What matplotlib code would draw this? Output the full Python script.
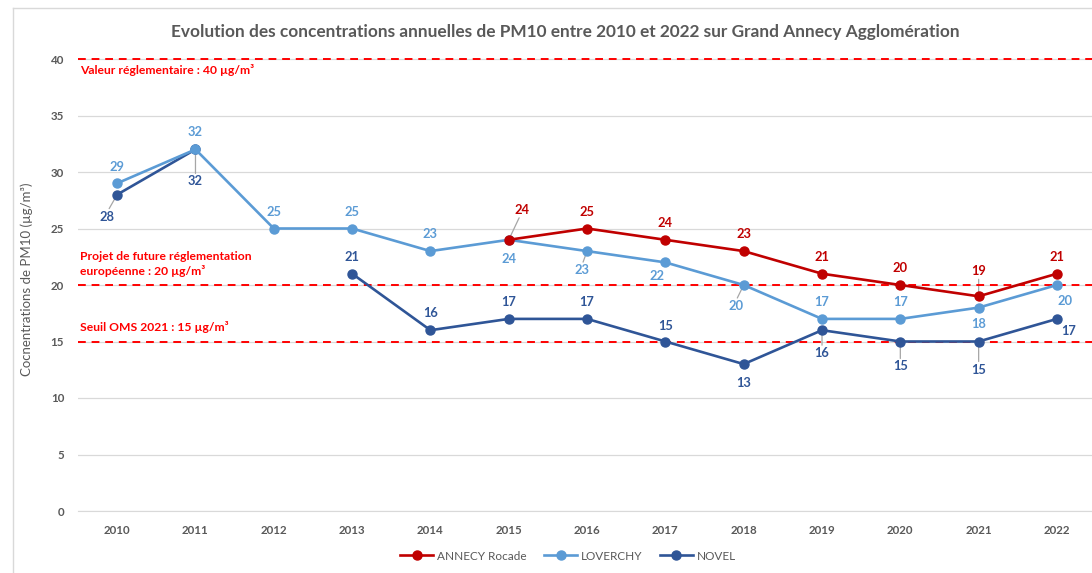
import numpy as np
import matplotlib
matplotlib.use("Agg")
import matplotlib.pyplot as plt
from matplotlib.lines import Line2D

plt.rcParams['font.family'] = ['Lato', 'DejaVu Sans']

years = ['2010', '2011', '2012', '2013', '2014', '2015', '2016',
         '2017', '2018', '2019', '2020', '2021', '2022']
nan = np.nan
annecy = [nan, nan, nan, nan, nan, 24, 25, 24, 23, 21, 20, 19, 21]
loverchy = [29, 32, 25, 25, 23, 24, 23, 22, 20, 17, 17, 18, 20]
novel = [28, 32, nan, 21, 16, 17, 17, 15, 13, 16, 15, 15, 17]
seuils = [40, 20, 15]
seuil_labels = ['Valeur réglementaire : 40 µg/m³',
                'Projet de future réglementation\neuropéenne : 20 µg/m³',
                'Seuil OMS 2021 : 15 µg/m³']

# label offsets in pixels (dx, dy) and whether a leader line is drawn
off_annecy = [None]*5 + [(13, 30, 1), (0, 17, 0), (0, 17, 0), (0, 17, 0),
                         (0, 17, 0), (0, 17, 0), (0, 25, 1), (0, 17, 0)]
off_lov = [(0, 16, 0), (0, 17, 0), (0, 17, 0), (0, 17, 0), (0, 17, 0),
           (0, -19, 0), (-5, -19, 1), (-8, -14, 0), (-8, -21, 1),
           (0, 17, 0), (0, 17, 0), (0, -16, 0), (8, -16, 0)]
off_nov = [(-10, -22, 1), (0, -32, 1), None, (0, 17, 0), (0, 17, 0),
           (0, 17, 0), (0, 17, 0), (0, 16, 0), (0, -19, 0), (0, -23, 1),
           (0, -25, 1), (0, -28, 1), (12, -12, 0)]

c_red = '#C00000'
c_lov = '#5B9BD5'
c_nov = '#2F5597'
gray = '#595959'

ymax = 41
fig = plt.figure(figsize=(10.92, 5.73), dpi=100)
ax = fig.add_axes([78/1092, 62/573, 1 - 78/1092, ymax*11.3/573])
x = np.arange(len(years))

series = [(annecy, c_red, 'ANNECY Rocade', off_annecy),
          (loverchy, c_lov, 'LOVERCHY', off_lov),
          (novel, c_nov, 'NOVEL', off_nov)]

for vals, col, name, offs in series[::-1]:
    ax.plot(x, vals, color=col, lw=1.9, marker='o', ms=6.5,
            markeredgecolor=col, label=name, zorder=3)

for vals, col, name, offs in series:
    for i, v in enumerate(vals):
        if np.isnan(v) or offs[i] is None:
            continue
        dx, dy, lead = offs[i]
        ax.annotate(f'{v:g}', (x[i], v), xytext=(dx, dy),
                    textcoords='offset pixels', ha='center', va='center',
                    color=col, fontsize=9.3, fontweight='bold', zorder=5)
        if lead:
            sgn = 1 if dy > 0 else -1
            ax.annotate('', (x[i], v), xytext=(dx*0.8, dy - sgn*8),
                        textcoords='offset pixels',
                        arrowprops=dict(arrowstyle='-', color='#A6A6A6', lw=0.9,
                                        shrinkA=0, shrinkB=0), zorder=2)

for s in seuils:
    ax.axhline(s, color='#FF0000', ls=(0, (4, 3)), lw=1.4, zorder=2)
ax.text(-0.47, 39.0, seuil_labels[0], color='#FF0000', fontsize=8.7,
        fontweight='bold', va='center')
ax.text(-0.47, 21.85, seuil_labels[1], color='#FF0000', fontsize=8.7,
        fontweight='bold', va='center', linespacing=1.25)
ax.text(-0.47, 16.3, seuil_labels[2], color='#FF0000', fontsize=8.7,
        fontweight='bold', va='center')

ax.set_xlim(-0.5, (1092-117)/78.33)
ax.set_ylim(0, ymax)
ax.set_yticks(np.arange(0, 45, 5))
ax.set_xticks(x)
ax.set_xticklabels(years)
ax.tick_params(length=0, labelsize=8.3, labelcolor=gray, pad=10)
for lab in ax.get_xticklabels() + ax.get_yticklabels():
    lab.set_fontweight('bold')
ax.grid(axis='y', color='#D9D9D9', lw=0.9, zorder=0)
for sp in ['top', 'right', 'left']:
    ax.spines[sp].set_visible(False)
ax.spines['bottom'].set_color('#D9D9D9')
ax.set_ylabel('Cocnentrations de PM10 (µg/m³)', fontsize=9.5, color=gray,
              labelpad=13)

fig.text(0.518, 1 - 32/573, 'Evolution des concentrations annuelles de PM10 '
         'entre 2010 et 2022 sur Grand Annecy Agglomération',
         ha='center', va='center', fontsize=12.4, fontweight='bold', color=gray)

fig.legend([ax.lines[2], ax.lines[1], ax.lines[0]],
           ['ANNECY Rocade', 'LOVERCHY', 'NOVEL'],
           loc='center', bbox_to_anchor=(0.52, 17/573), ncol=3, frameon=False,
           fontsize=8.5, labelcolor=gray, handlelength=2.8, columnspacing=1.5,
           handletextpad=0.3)

fig.add_artist(Line2D([13/1092, 13/1092], [0, 1 - 8/573], color='#D9D9D9', lw=1))
fig.add_artist(Line2D([13/1092, 1], [1 - 8/573, 1 - 8/573], color='#D9D9D9', lw=1))

fig.savefig('out.png', dpi=100)
